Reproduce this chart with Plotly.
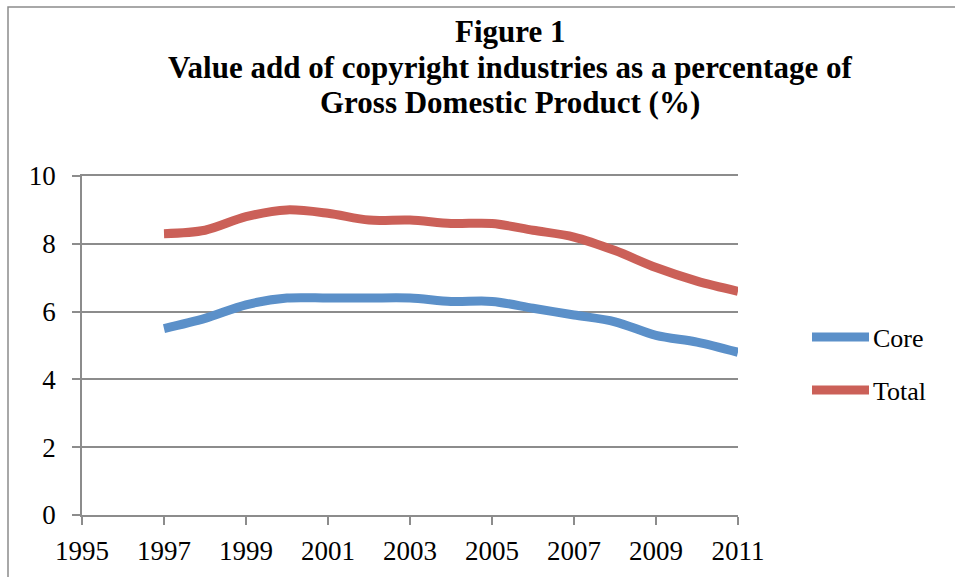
import plotly.graph_objects as go

years = list(range(1997, 2012))
core = [5.5, 5.8, 6.2, 6.4, 6.4, 6.4, 6.4, 6.3, 6.3, 6.1, 5.9, 5.7, 5.3, 5.1, 4.8]
total = [8.3, 8.4, 8.8, 9.0, 8.9, 8.7, 8.7, 8.6, 8.6, 8.4, 8.2, 7.8, 7.3, 6.9, 6.6]
x_ticks = list(range(1995, 2012, 2))
y_ticks = [0, 2, 4, 6, 8, 10]
series_names = ["Core", "Total"]
series_colors = ["#5b90c9", "#cb6058"]
title_lines = [
    "Figure 1",
    "Value add of copyright industries as a percentage of",
    "Gross Domestic Product (%)",
]

FONT = "Liberation Serif"
GRID = "#8c8c8c"

W, H = 955, 577
L, R, T, B = 82, 217, 176, 62
pw, ph = W - L - R, H - T - B


def px_x(p):
    return (p - L) / pw


def px_y(p):
    return 1 + (T - p) / ph


fig = go.Figure()
for name, vals, color in zip(series_names, [core, total], series_colors):
    fig.add_trace(go.Scatter(x=years, y=vals, name=name, mode="lines", showlegend=False,
                             line=dict(color=color, width=9, shape="spline", smoothing=0.9)))

# outer frame around the chart
fig.add_shape(type="rect", xref="paper", yref="paper",
              x0=px_x(8), x1=px_x(W + 20), y0=px_y(H + 20), y1=px_y(7),
              line=dict(color="#8c8c8c", width=1.5), fillcolor="rgba(0,0,0,0)", layer="below")

# title, one line per annotation
for line, cy in zip(title_lines, [31, 67, 102]):
    fig.add_annotation(text=f"<b>{line}</b>", xref="paper", yref="paper",
                       x=px_x(510), y=px_y(cy), xanchor="center", yanchor="middle",
                       showarrow=False, font=dict(family=FONT, size=31, color="black"))

# legend: thick line sample plus label
for name, color, cy in zip(series_names, series_colors, [337, 390]):
    fig.add_shape(type="line", xref="paper", yref="paper",
                  x0=px_x(812), x1=px_x(869), y0=px_y(cy), y1=px_y(cy),
                  line=dict(color=color, width=9))
    fig.add_annotation(text=name, xref="paper", yref="paper",
                       x=px_x(871), y=px_y(cy + 1), xanchor="left", yanchor="middle",
                       showarrow=False, font=dict(family=FONT, size=26, color="black"))

fig.update_layout(
    width=W, height=H,
    margin=dict(l=L, r=R, t=T, b=B),
    paper_bgcolor="white", plot_bgcolor="white",
    font=dict(family=FONT, size=27, color="black"),
    showlegend=False,
    xaxis=dict(range=[1995, 2011], tickvals=x_ticks, showgrid=False, zeroline=False,
               showline=True, mirror=True, linecolor=GRID, linewidth=1.5,
               ticks="outside", ticklen=8, tickcolor=GRID, tickwidth=1.5,
               ticklabelstandoff=3, tickfont=dict(size=27), fixedrange=True),
    yaxis=dict(range=[0, 10], tickvals=y_ticks, showgrid=True, gridcolor=GRID, gridwidth=1.5,
               zeroline=False, showline=True, linecolor=GRID, linewidth=1.5,
               ticks="outside", ticklen=8, tickcolor=GRID, tickwidth=1.5,
               ticklabelstandoff=11, tickfont=dict(size=27), fixedrange=True),
)

fig.write_html("out.html")
